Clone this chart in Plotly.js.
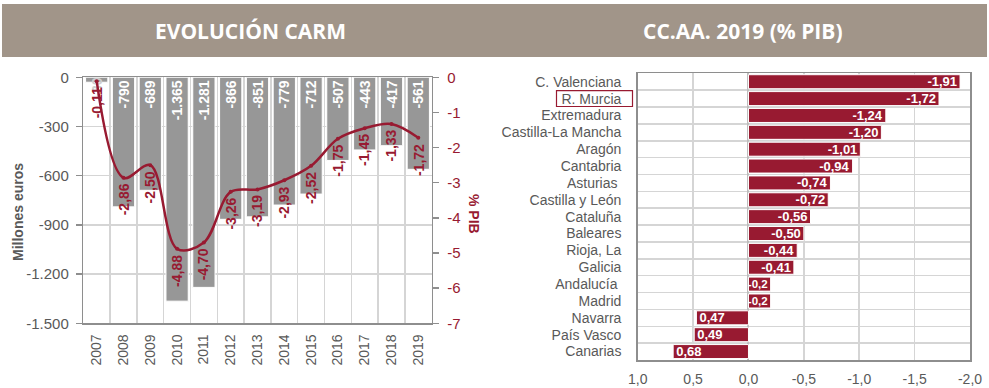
<!DOCTYPE html>
<html>
<head>
<meta charset="utf-8">
<script src="https://cdn.plot.ly/plotly-3.0.1.min.js"></script>
<style>
  html, body { margin: 0; padding: 0; background: #ffffff; }
  #chart { width: 989px; height: 388px; }
</style>
</head>
<body>
<div id="chart"></div>
<script>
// Déficit CARM: millones de euros (barras) y % del PIB (línea)
const years = ['2007', '2008', '2009', '2010', '2011', '2012', '2013',
               '2014', '2015', '2016', '2017', '2018', '2019'];
const deficitMillions = [-30, -790, -689, -1365, -1281, -866, -851,
                         -779, -712, -507, -443, -417, -561];
const deficitPib = [-0.11, -2.86, -2.50, -4.88, -4.70, -3.26, -3.19,
                    -2.93, -2.52, -1.75, -1.45, -1.33, -1.72];

// Déficit por comunidad autónoma, 2019 (% PIB)
const regions = ['C. Valenciana', 'R. Murcia', 'Extremadura', 'Castilla-La Mancha',
                 'Aragón', 'Cantabria', 'Asturias\u00a0', 'Castilla y León', 'Cataluña',
                 'Baleares', 'Rioja, La', 'Galicia', 'Andalucía\u00a0', 'Madrid',
                 'Navarra', 'País Vasco', 'Canarias'];
const regionPib = [-1.91, -1.72, -1.24, -1.20, -1.01, -0.94, -0.74, -0.72, -0.56,
                   -0.50, -0.44, -0.41, -0.2, -0.2, 0.47, 0.49, 0.68];
const regionDecimals = [2, 2, 2, 2, 2, 2, 2, 2, 2, 2, 2, 2, 1, 1, 2, 2, 2];

// Marcas de los ejes
const millionsTicks = [0, -300, -600, -900, -1200, -1500];
const pibTicks = [0, -1, -2, -3, -4, -5, -6, -7];
const regionTicks = [1.0, 0.5, 0.0, -0.5, -1.0, -1.5, -2.0];

const highlightRegion = 'R. Murcia';

const CRIMSON = '#981a31';
const BAR_GREY = '#979797';
const TEXT_GREY = '#595959';
const GRID = '#d5d5d5';
const AXIS = '#8e8e8e';
const FONT = 'Liberation Sans, Arial, sans-serif';

const W = 989, H = 388;
const px = v => v / W;
const py = v => 1 - v / H;

// Formato español: coma decimal, punto de miles, guion como signo menos
function esNumber(v, dec) {
  return v.toFixed(dec).replace('.', ',');
}
function esThousands(v) {
  const s = Math.abs(v).toString().replace(/\B(?=(\d{3})+(?!\d))/g, '.');
  return (v < 0 ? '-' : '') + s;
}

const traces = [
  {
    type: 'bar',
    x: years,
    y: deficitMillions,
    xaxis: 'x', yaxis: 'y',
    marker: { color: BAR_GREY, line: { color: '#ffffff', width: 1 } },
    text: deficitMillions.map(esThousands),
    textposition: 'inside',
    insidetextanchor: 'start',
    textangle: -90,
    constraintext: 'none',
    cliponaxis: false,
    textfont: {
      family: FONT, size: 14, weight: 'bold',
      color: deficitMillions.map(v => (v > -100 ? '#cfcfcf' : '#ffffff'))
    },
    hoverinfo: 'x+y'
  },
  {
    type: 'scatter',
    mode: 'lines+markers',
    x: years,
    y: deficitPib,
    xaxis: 'x', yaxis: 'y2',
    line: { color: CRIMSON, width: 2.5, shape: 'spline', smoothing: 1 },
    marker: { color: CRIMSON, size: 4 },
    cliponaxis: false,
    hoverinfo: 'x+y'
  },
  {
    type: 'bar',
    orientation: 'h',
    y: regions,
    x: regionPib,
    xaxis: 'x2', yaxis: 'y3',
    marker: { color: CRIMSON, line: { color: '#ffffff', width: 1 } },
    text: regionPib.map((v, i) => esNumber(v, regionDecimals[i])),
    textposition: 'inside',
    insidetextanchor: 'end',
    constraintext: 'none',
    textfont: {
      family: FONT, weight: 'bold', color: '#ffffff',
      // las barras más cortas llevan la etiqueta algo menor para que quepa
      size: regionPib.map(v => (Math.abs(v) < 0.3 ? 11.5 : 13))
    },
    hoverinfo: 'y+x'
  }
];

// Etiquetas de la línea (% PIB) bajo cada punto; en eje de categorías
// la posición x se da por índice
const pibLabels = years.map((yr, i) => ({
  x: i, y: deficitPib[i], xref: 'x', yref: 'y2',
  text: esNumber(deficitPib[i], 2),
  textangle: -90,
  showarrow: false,
  xanchor: 'center', yanchor: 'top',
  yshift: -4,
  font: { family: FONT, size: 14, weight: 'bold', color: CRIMSON }
}));

const layout = {
  width: W, height: H,
  margin: { l: 0, r: 0, t: 0, b: 0 },
  paper_bgcolor: '#ffffff',
  plot_bgcolor: '#ffffff',
  showlegend: false,
  bargap: 0.17,
  font: { family: FONT, color: TEXT_GREY, size: 14 },

  xaxis: {
    domain: [px(83.3), px(431.7)],
    anchor: 'y',
    type: 'category',
    range: [-0.5, years.length - 0.5],
    tickson: 'boundaries',
    showgrid: true, gridcolor: GRID, gridwidth: 1.5,
    showline: true, linecolor: AXIS, linewidth: 1.5, mirror: true,
    ticks: '', tickangle: -90,
    ticklabelstandoff: 4,
    tickfont: { family: FONT, size: 14, color: TEXT_GREY },
    fixedrange: true
  },
  yaxis: {
    domain: [py(323.3), py(77.3)],
    anchor: 'x',
    range: [-1500, 0],
    tickmode: 'array',
    tickvals: millionsTicks,
    ticktext: millionsTicks.map(esThousands),
    showgrid: true, gridcolor: GRID, gridwidth: 1.5,
    zeroline: false,
    showline: true, linecolor: AXIS, linewidth: 1.5,
    ticks: 'outside', ticklen: 6, tickcolor: AXIS, tickwidth: 1.5,
    ticklabelstandoff: 4,
    tickfont: { family: FONT, size: 15, color: TEXT_GREY },
    fixedrange: true
  },
  yaxis2: {
    overlaying: 'y',
    anchor: 'x',
    side: 'right',
    range: [-7, 0],
    tickmode: 'array',
    tickvals: pibTicks,
    ticktext: pibTicks.map(v => esNumber(v, 0)),
    showgrid: false, zeroline: false,
    showline: true, linecolor: AXIS, linewidth: 1.5,
    ticks: 'outside', ticklen: 6, tickcolor: AXIS, tickwidth: 1.5,
    ticklabelstandoff: 5,
    tickfont: { family: FONT, size: 15, color: CRIMSON },
    fixedrange: true
  },

  xaxis2: {
    domain: [px(637.7), px(970)],
    anchor: 'y3',
    range: [1, -2],
    tickmode: 'array',
    tickvals: regionTicks,
    ticktext: regionTicks.map(v => esNumber(v, 1)),
    showgrid: true, gridcolor: GRID, gridwidth: 1.5,
    zeroline: true, zerolinecolor: '#bdbdbd', zerolinewidth: 2,
    showline: true, linecolor: AXIS, linewidth: 1.5, mirror: true,
    ticks: '',
    ticklabelstandoff: 6,
    tickfont: { family: FONT, size: 14, color: TEXT_GREY },
    fixedrange: true
  },
  yaxis3: {
    domain: [py(360), py(73.3)],
    anchor: 'x2',
    type: 'category',
    autorange: 'reversed',
    tickmode: 'linear', tick0: 0, dtick: 1,
    tickson: 'boundaries',
    showgrid: true, gridcolor: GRID, gridwidth: 1.5,
    showline: true, linecolor: AXIS, linewidth: 1.5, mirror: true,
    ticks: '',
    ticklabelstandoff: 12,
    tickfont: { family: FONT, size: 14, color: TEXT_GREY },
    fixedrange: true
  },

  shapes: [
    // Banda de cabecera
    {
      type: 'rect', xref: 'paper', yref: 'paper',
      x0: px(2), x1: px(987), y0: py(57), y1: py(4),
      fillcolor: '#a19589', line: { width: 0 }, layer: 'below'
    },
    // Recuadro de la Región de Murcia
    {
      type: 'rect', xref: 'paper', yref: 'y3',
      x0: px(556.5), x1: px(632.5),
      y0: regions.indexOf(highlightRegion) - 0.47,
      y1: regions.indexOf(highlightRegion) + 0.47,
      line: { color: CRIMSON, width: 1.2 }, fillcolor: 'rgba(0,0,0,0)'
    }
  ],

  annotations: [
    {
      x: px(250), y: py(31), xref: 'paper', yref: 'paper',
      text: 'EVOLUCIÓN CARM', showarrow: false,
      xanchor: 'center', yanchor: 'middle',
      font: { family: 'Open Sans, sans-serif', size: 21, weight: 'bold', color: '#ffffff' }
    },
    {
      x: px(743), y: py(31), xref: 'paper', yref: 'paper',
      text: 'CC.AA. 2019 (% PIB)', showarrow: false,
      xanchor: 'center', yanchor: 'middle',
      font: { family: 'Open Sans, sans-serif', size: 21, weight: 'bold', color: '#ffffff' }
    },
    {
      x: px(18), y: py(212), xref: 'paper', yref: 'paper',
      text: 'Millones euros', showarrow: false, textangle: -90,
      xanchor: 'center', yanchor: 'middle',
      font: { family: FONT, size: 14, weight: 'bold', color: TEXT_GREY }
    },
    {
      x: px(474), y: py(214), xref: 'paper', yref: 'paper',
      text: '% PIB', showarrow: false, textangle: 90,
      xanchor: 'center', yanchor: 'middle',
      font: { family: FONT, size: 14, weight: 'bold', color: CRIMSON }
    }
  ].concat(pibLabels)
};

Plotly.newPlot('chart', traces, layout, { displayModeBar: false, staticPlot: true });
</script>
</body>
</html>
